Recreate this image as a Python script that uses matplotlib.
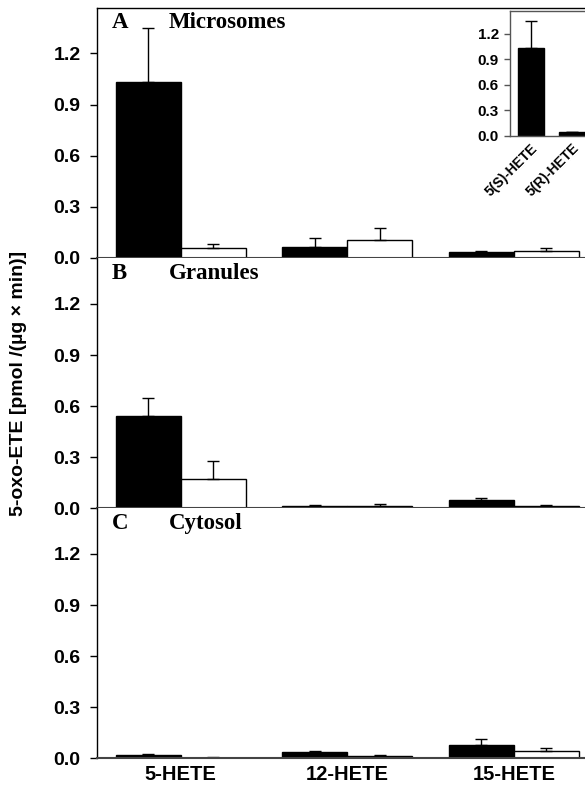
import matplotlib
matplotlib.use("Agg")
import matplotlib.pyplot as plt
import numpy as np

categories = ["5-HETE", "12-HETE", "15-HETE"]
panel_letters = ["A", "B", "C"]
panel_names = ["Microsomes", "Granules", "Cytosol"]

# black bars (first series) and white bars (second series): mean and upper error-bar end
black_vals = [[1.03, 0.066, 0.035], [0.543, 0.014, 0.047], [0.022, 0.035, 0.080]]
black_errtop = [[1.35, 0.116, 0.041], [0.647, 0.017, 0.060], [0.027, 0.041, 0.112]]
white_vals = [[0.057, 0.106, 0.041], [0.175, 0.016, 0.016], [0.003, 0.016, 0.041]]
white_errtop = [[0.080, 0.175, 0.057], [0.278, 0.024, 0.022], [0.005, 0.022, 0.063]]

inset_labels = ["5(S)-HETE", "5(R)-HETE"]
inset_vals = [1.03, 0.04]
inset_errtop = [1.35, 0.045]

yticks = [0.0, 0.3, 0.6, 0.9, 1.2]
ylabel = "5-oxo-ETE [pmol /(µg × min)]"

SANS = ["Liberation Sans", "DejaVu Sans"]
SERIF = ["Liberation Serif", "DejaVu Serif"]

fig = plt.figure(figsize=(5.85, 7.9), dpi=100)
W, H = 585.0, 790.0
left = 97.3 / W
width = 500.0 / W
tops = [7.5, 258.0, 508.0]
ph = 250.3

x = np.arange(len(categories))
bw = 0.39
axes = []
for i in range(3):
    bottom = (H - (tops[i] + ph)) / H
    ax = fig.add_axes([left, bottom, width, ph / H])
    axes.append(ax)
    bv = np.array(black_vals[i]); be = np.array(black_errtop[i]) - bv
    wv = np.array(white_vals[i]); we = np.array(white_errtop[i]) - wv
    ax.bar(x - bw / 2, bv, bw, color="black", edgecolor="black", linewidth=1.0,
           yerr=[np.zeros_like(be), be], error_kw=dict(ecolor="black", elinewidth=1.0, capsize=4, capthick=1.0), zorder=2)
    ax.bar(x + bw / 2, wv, bw, color="white", edgecolor="black", linewidth=1.0,
           yerr=[np.zeros_like(we), we], error_kw=dict(ecolor="black", elinewidth=1.0, capsize=4, capthick=1.0), zorder=2)
    ax.set_xlim(-0.5, 2.5)
    ax.set_ylim(0, 1.47)
    ax.set_yticks(yticks)
    ax.set_yticklabels([f"{t:.1f}" for t in yticks], fontfamily=SANS, fontweight="bold", fontsize=14)
    ax.tick_params(axis="y", direction="out", length=5, width=1, pad=7)
    ax.tick_params(axis="x", length=0)
    ax.spines["right"].set_visible(False)
    ax.spines["left"].set_linewidth(1.0)
    ax.spines["bottom"].set_color("#444444")
    ax.spines["bottom"].set_linewidth(1.5)
    if i == 0:
        ax.spines["top"].set_linewidth(1.0)
    else:
        ax.spines["top"].set_visible(False)
    if i < 2:
        ax.set_xticks([])
    else:
        ax.set_xticks(x)
        ax.set_xticklabels(categories, fontfamily=SANS, fontweight="bold", fontsize=14.5)
        ax.tick_params(axis="x", pad=5)
    ax.text(14.5 / 500, 1 - 20.5 / 250, panel_letters[i], transform=ax.transAxes,
            fontfamily=SERIF, fontweight="bold", fontsize=16.5, va="baseline", ha="left")
    ax.text(71.5 / 500, 1 - 20.5 / 250, panel_names[i], transform=ax.transAxes,
            fontfamily=SERIF, fontweight="bold", fontsize=16.5, va="baseline", ha="left")

fig.text(19 / W, 1 - 383 / H, ylabel, rotation=90, va="center", ha="center",
         fontfamily=SANS, fontweight="bold", fontsize=14)

# inset
ins = fig.add_axes([510 / W, (H - 135.7) / H, 83 / W, 124.7 / H])
xi = np.arange(len(inset_labels))
iv = np.array(inset_vals); ie = np.array(inset_errtop) - iv
ins.bar(xi, iv, 0.62, color="black", edgecolor="black", linewidth=1.0,
        yerr=[np.zeros_like(ie), ie], error_kw=dict(ecolor="black", elinewidth=1.0, capsize=4, capthick=1.0))
ins.set_xlim(-0.5, 1.5)
ins.set_ylim(0, 1.47)
ins.set_yticks(yticks)
ins.set_yticklabels([f"{t:.1f}" for t in yticks], fontfamily=SANS, fontweight="bold", fontsize=11)
ins.tick_params(axis="y", direction="out", length=4, width=1, pad=4, color="#555555")
ins.set_xticks(xi)
ins.set_xticklabels(inset_labels, rotation=45, ha="right", rotation_mode="anchor",
                    fontfamily=SANS, fontweight="bold", fontsize=10)
ins.tick_params(axis="x", length=0, pad=4)
ins.spines["right"].set_visible(False)
for s in ["left", "top", "bottom"]:
    ins.spines[s].set_color("#555555")
    ins.spines[s].set_linewidth(1.0)

fig.savefig("out.png", dpi=100)
